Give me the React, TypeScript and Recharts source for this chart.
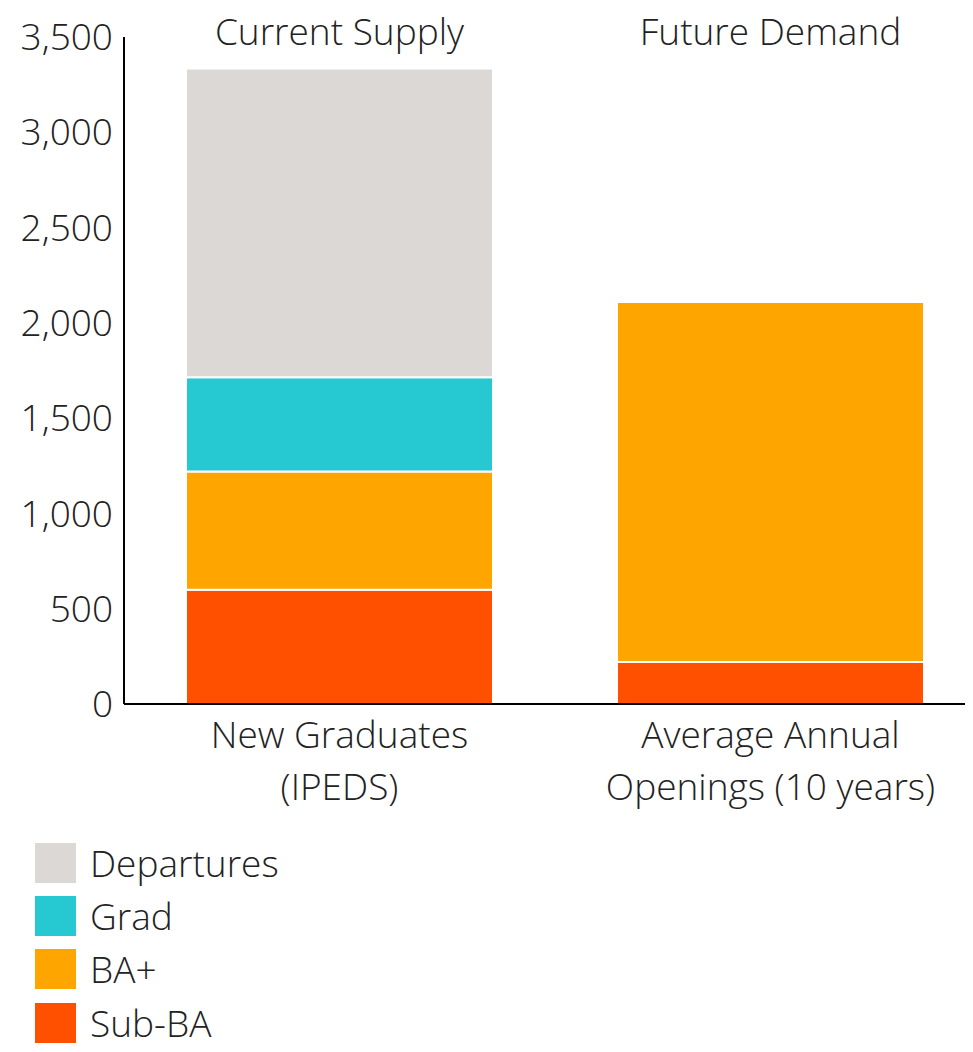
import { BarChart, Bar, XAxis, YAxis, Legend } from "recharts";

// categories (bottom labels) and their group headings (top labels)
const categories = ["New Graduates\n(IPEDS)", "Average Annual\nOpenings (10 years)"];
const headings = ["Current Supply", "Future Demand"];

// stacked values, bottom to top
const subBA = [600, 220];
const baPlus = [620, 1890];
const grad = [495, 0];
const departures = [1620, 0];

const yTicks = [0, 500, 1000, 1500, 2000, 2500, 3000, 3500];
const legendOrder = ["Departures", "Grad", "BA+", "Sub-BA"];

const data = categories.map((c, i) => ({
  name: c,
  heading: headings[i],
  subBA: subBA[i],
  baPlus: baPlus[i],
  grad: grad[i],
  departures: departures[i],
}));

const FONT = "'Open Sans', sans-serif";
const TEXT = "#222";
const FS = 37;

const TopTick = (props: any) => {
  const { x, y, payload } = props;
  return (
    <text x={x} y={y} dy={16} textAnchor="middle" fontFamily={FONT} fontWeight={300} fontSize={FS} fill={TEXT}>
      {headings[payload.index] ?? payload.value}
    </text>
  );
};

const BottomTick = (props: any) => {
  const { x, y, payload } = props;
  const lines = String(payload.value).split("\n");
  return (
    <text x={x} y={y} textAnchor="middle" fontFamily={FONT} fontWeight={300} fontSize={FS} fill={TEXT}>
      {lines.map((l, i) => (
        <tspan key={i} x={x} dy={i === 0 ? 36 : 52}>
          {l}
        </tspan>
      ))}
    </text>
  );
};

const LegendContent = (props: any) => {
  const items = [...(props.payload || [])].sort(
    (a: any, b: any) => legendOrder.indexOf(a.value) - legendOrder.indexOf(b.value)
  );
  return (
    <div style={{ fontFamily: FONT, fontWeight: 300, fontSize: FS, color: TEXT }}>
      {items.map((it: any) => (
        <div key={it.value} style={{ display: "flex", alignItems: "center", height: 53.3 }}>
          <div style={{ width: 41, height: 40, background: it.color, marginRight: 14 }} />
          <span style={{ lineHeight: "40px" }}>{it.value}</span>
        </div>
      ))}
    </div>
  );
};

export default function App() {
  return (
    <div style={{ margin: -8, width: 973, height: 1052, overflow: "hidden" }}>
      <BarChart
        width={1000}
        height={1052}
        data={data}
        margin={{ top: 0, right: 14, bottom: 28, left: 0 }}
        barSize={307}
      >
        <XAxis
          xAxisId="top"
          dataKey="name"
          orientation="top"
          height={37}
          axisLine={false}
          tickLine={false}
          tick={<TopTick />}
          interval={0}
        />
        <XAxis
          dataKey="name"
          height={100}
          axisLine={{ stroke: "#000", strokeWidth: 2 }}
          tickLine={false}
          tick={<BottomTick />}
          interval={0}
        />
        <YAxis
          width={124}
          domain={[0, 3500]}
          ticks={yTicks}
          axisLine={{ stroke: "#000", strokeWidth: 2 }}
          tickLine={false}
          tickMargin={5}
          tickFormatter={(v: number) => v.toLocaleString("en-US")}
          tick={{ fontFamily: FONT, fontWeight: 300, fontSize: FS, fill: TEXT }}
        />
        <Legend
          verticalAlign="bottom"
          align="left"
          layout="horizontal"
          content={<LegendContent />}
          wrapperStyle={{ left: 35, top: 836, height: 220, width: 320 }}
        />
        <Bar dataKey="subBA" name="Sub-BA" stackId="a" fill="#FF5000" stroke="#fff" strokeWidth={2} isAnimationActive={false} />
        <Bar dataKey="baPlus" name="BA+" stackId="a" fill="#FFA500" stroke="#fff" strokeWidth={2} isAnimationActive={false} />
        <Bar dataKey="grad" name="Grad" stackId="a" fill="#26C9D2" stroke="#fff" strokeWidth={2} isAnimationActive={false} />
        <Bar dataKey="departures" name="Departures" stackId="a" fill="#DBD8D5" stroke="#fff" strokeWidth={2} isAnimationActive={false} />
      </BarChart>
    </div>
  );
}
